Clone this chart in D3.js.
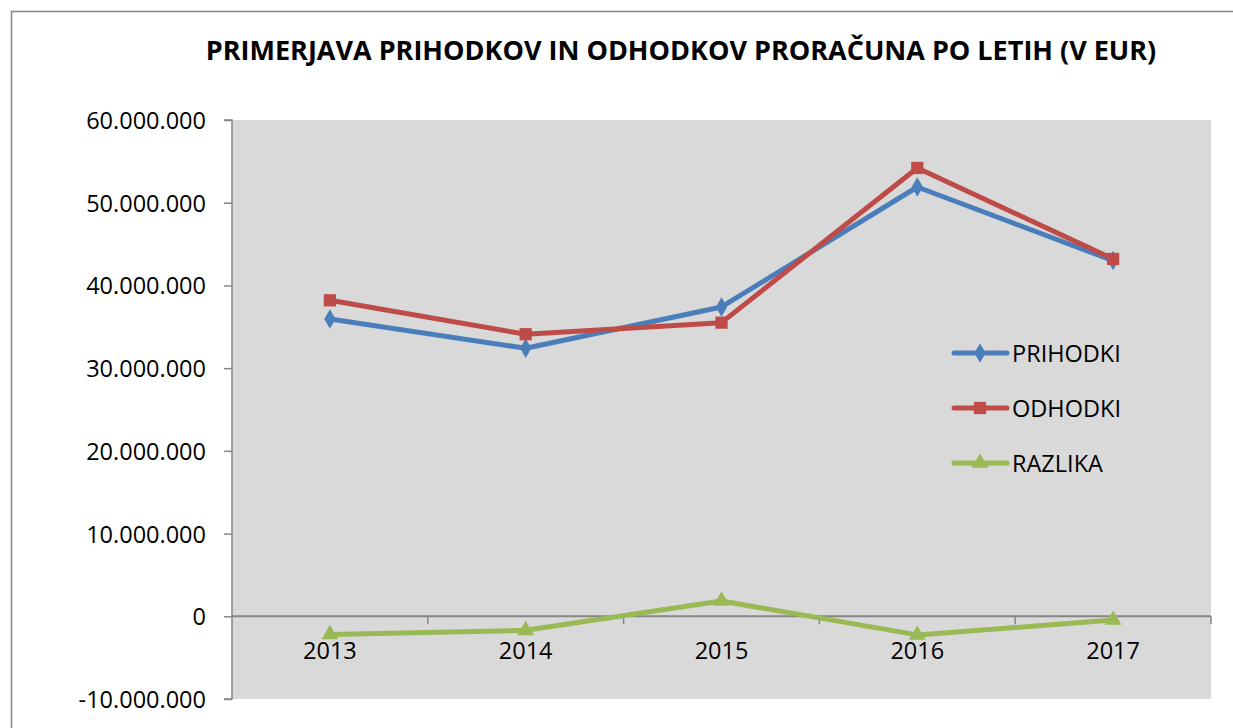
<!DOCTYPE html>
<html>
<head>
<meta charset="utf-8">
<script src="https://cdn.jsdelivr.net/npm/d3@7"></script>
<style>
  body { margin: 0; background: #fff; }
  text { font-family: "Open Sans", sans-serif; fill: #000; }
</style>
</head>
<body>
<svg></svg>
<script>
const years = ["2013", "2014", "2015", "2016", "2017"]
const prihodki = [35950000, 32400000, 37400000, 51900000, 43000000]
const odhodki = [38200000, 34100000, 35500000, 54200000, 43200000]
const razlika = [-2200000, -1700000, 1850000, -2250000, -450000]
const yTicks = [-10000000, 0, 10000000, 20000000, 30000000, 40000000, 50000000, 60000000]
const seriesNames = ["PRIHODKI", "ODHODKI", "RAZLIKA"]

let width = 1233
let height = 728
let plot = { left: 232, right: 1211, top: 120, bottom: 699 }
let fontSize = "23.5px"

let colors = ["#4a7ebb", "#be4b48", "#98b954"]
let markers = [d3.symbolDiamond, d3.symbolSquare, d3.symbolTriangle]
let markerSize = [110, 150, 120]

let svg = d3.select("svg")
    .attr("width", width)
    .attr("height", height)

// outer chart border
svg.append("rect")
    .attr("x", 11.5)
    .attr("y", 11.5)
    .attr("width", width + 20)
    .attr("height", height + 20)
    .attr("fill", "#fff")
    .attr("stroke", "#868686")
    .attr("stroke-width", 1.5)

svg.append("text")
    .attr("x", 681)
    .attr("y", 60)
    .attr("text-anchor", "middle")
    .style("font-size", "27px")
    .style("font-weight", "bold")
    .text("PRIMERJAVA PRIHODKOV IN ODHODKOV PRORAČUNA PO LETIH (V EUR)")

let xScale = d3.scaleBand()
    .domain(years)
    .range([plot.left, plot.right])

let yScale = d3.scaleLinear()
    .domain([-10000000, 60000000])
    .range([plot.bottom, plot.top])

svg.append("rect")
    .attr("x", plot.left)
    .attr("y", plot.top)
    .attr("width", plot.right - plot.left)
    .attr("height", plot.bottom - plot.top)
    .attr("fill", "#d9d9d9")

let yAxis = d3.axisLeft(yScale)
    .tickValues(yTicks)
    .tickSize(8)
    .tickPadding(18)
    .tickFormat(d => d3.format(",")(d).replace(/,/g, ".").replace("−", "-"))

let gy = svg.append("g")
    .attr("transform", "translate(" + plot.left + ",0)")
    .call(yAxis)
gy.selectAll("line, path").attr("stroke", "#868686").attr("stroke-width", 1.5)
gy.select(".domain").attr("d", "M-8," + plot.top + "H0V" + plot.bottom + "H-8")
gy.selectAll("text")
    .style("font-size", fontSize)
    .style("font-family", "'Open Sans', sans-serif")
    .attr("dy", "0.36em")

// category axis at zero with tick marks on the band boundaries
let gx = svg.append("g")
    .attr("transform", "translate(0," + yScale(0) + ")")
gx.append("line")
    .attr("x1", plot.left)
    .attr("x2", plot.right)
    .attr("stroke", "#868686")
    .attr("stroke-width", 2)
gx.selectAll(".tk")
    .data(years.slice(1).concat(["end"]))
    .enter()
    .append("line")
    .attr("x1", (d, i) => plot.left + (i + 1) * xScale.bandwidth())
    .attr("x2", (d, i) => plot.left + (i + 1) * xScale.bandwidth())
    .attr("y1", 0)
    .attr("y2", 8)
    .attr("stroke", "#868686")
    .attr("stroke-width", 1.5)
gx.selectAll(".lbl")
    .data(years)
    .enter()
    .append("text")
    .attr("x", d => xScale(d) + xScale.bandwidth() / 2)
    .attr("y", 43)
    .attr("text-anchor", "middle")
    .style("font-size", fontSize)
    .text(d => d)

let allSeries = [prihodki, odhodki, razlika]

let line = d3.line()
    .x((d, i) => xScale(years[i]) + xScale.bandwidth() / 2)
    .y(d => yScale(d))

allSeries.forEach((values, s) => {
    svg.append("path")
        .datum(values)
        .attr("d", line)
        .attr("fill", "none")
        .attr("stroke", colors[s])
        .attr("stroke-width", 5)
        .attr("stroke-linejoin", "round")
        .attr("stroke-linecap", "round")

    svg.selectAll(".m" + s)
        .data(values)
        .enter()
        .append("path")
        .attr("d", d3.symbol().type(markers[s]).size(markerSize[s]))
        .attr("transform", (d, i) => "translate(" + (xScale(years[i]) + xScale.bandwidth() / 2) + "," + yScale(d) + ")")
        .attr("fill", colors[s])
})

// legend
let legend = svg.append("g")
    .attr("transform", "translate(952,353)")
seriesNames.forEach((name, s) => {
    let row = legend.append("g").attr("transform", "translate(0," + s * 55 + ")")
    row.append("line")
        .attr("x1", 2)
        .attr("x2", 55)
        .attr("stroke", colors[s])
        .attr("stroke-width", 5)
        .attr("stroke-linecap", "round")
    row.append("path")
        .attr("d", d3.symbol().type(markers[s]).size(markerSize[s]))
        .attr("transform", "translate(28,0)")
        .attr("fill", colors[s])
    row.append("text")
        .attr("x", 60)
        .attr("y", 8.5)
        .style("font-size", fontSize)
        .text(name)
})
</script>
</body>
</html>
